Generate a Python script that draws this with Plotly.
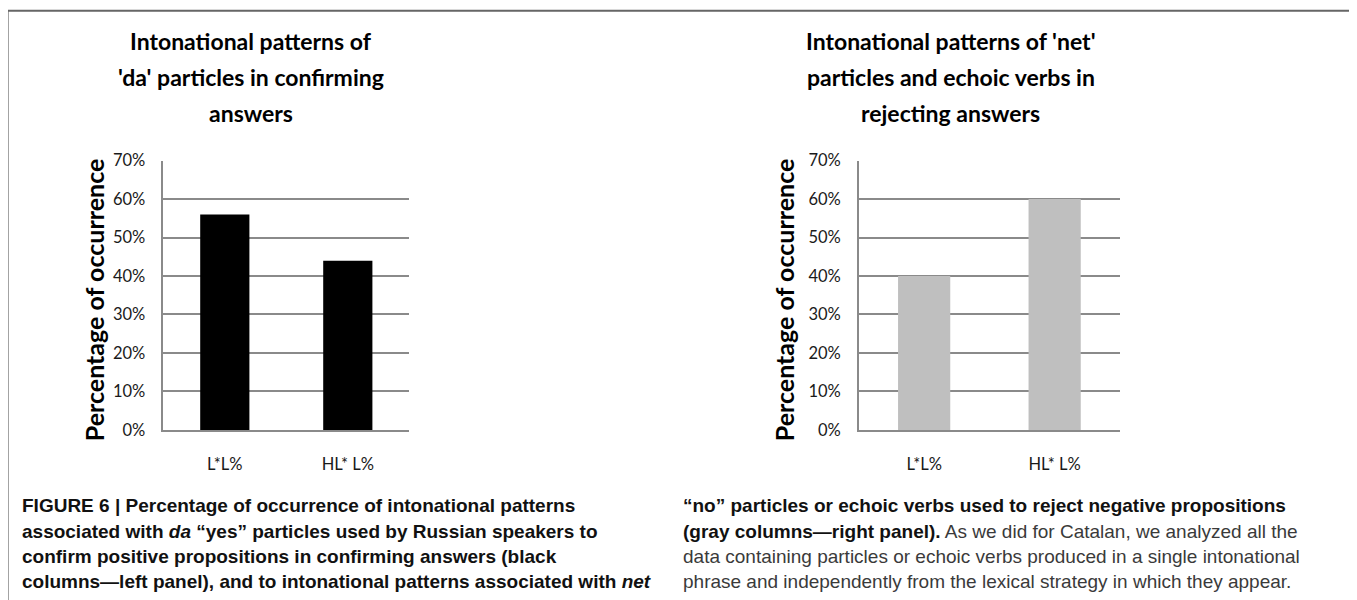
import plotly.graph_objects as go

W, H = 1357, 600

categories = ["L*L%", "HL* L%"]
da_values = [0.56, 0.44]
net_values = [0.40, 0.60]
y_tick_vals = [0, 0.1, 0.2, 0.3, 0.4, 0.5, 0.6, 0.7]
left_title = ["Intonational patterns of", "'da' particles in confirming", "answers"]
right_title = ["Intonational patterns of 'net'", "particles and echoic verbs in", "rejecting answers"]
y_title = "Percentage of occurrence"
left_caption = [
    "<b>FIGURE 6 | Percentage of occurrence of intonational patterns</b>",
    "<b>associated with <i>da</i> \u201cyes\u201d particles used by Russian speakers to</b>",
    "<b>confirm positive propositions in confirming answers (black</b>",
    "<b>columns\u2014left panel), and to intonational patterns associated with <i>net</i></b>",
]
right_caption = [
    "<b>\u201cno\u201d particles or echoic verbs used to reject negative propositions</b>",
    "<b>(gray columns\u2014right panel).</b><span style='color:#3a3a3a'> As we did for Catalan, we analyzed all the</span>",
    "<span style='color:#3a3a3a'>data containing particles or echoic verbs produced in a single intonational</span>",
    "<span style='color:#3a3a3a'>phrase and independently from the lexical strategy in which they appear.</span>",
]

# mapping from target picture pixels to paper coordinates (compensates page offset)
OX, OY, SW, SH = 7.4, 17.4, 1357.0, 582.0


def px(x):
    return (x - OX) / SW


def py(y):
    return 1 - (y - OY) / SH


FONT = "Lato"
GRID = "#8a8a8a"

fig = go.Figure()
fig.add_trace(go.Bar(x=categories, y=da_values, marker=dict(color="#000000", line=dict(width=0)),
                     xaxis="x", yaxis="y", showlegend=False))
fig.add_trace(go.Bar(x=categories, y=net_values, marker=dict(color="#bfbfbf", line=dict(width=0)),
                     xaxis="x2", yaxis="y2", showlegend=False))

ydom = [py(430.7), py(160.5)]
common_y = dict(range=[0, 0.7], tickvals=y_tick_vals, tickformat=".0%", showgrid=True,
                gridcolor=GRID, gridwidth=1.5, showline=True, linecolor=GRID, linewidth=1.5,
                zeroline=False, ticks="", ticklabelstandoff=13,
                tickfont=dict(family=FONT, size=16.5, color="#1a1a1a"), domain=ydom, fixedrange=True)
common_x = dict(showline=True, linecolor=GRID, linewidth=1.5, showgrid=False, ticks="",
                ticklabelstandoff=19, tickfont=dict(family=FONT, size=16.5, color="#1a1a1a"),
                fixedrange=True)

fig.update_layout(
    width=W, height=H,
    margin=dict(l=0, r=0, t=0, b=0),
    paper_bgcolor="white", plot_bgcolor="white",
    bargap=0.6,
    xaxis=dict(domain=[px(162.7), px(408.7)], anchor="y", **common_x),
    yaxis=dict(anchor="x", **common_y),
    xaxis2=dict(domain=[px(858.3), px(1119.3)], anchor="y2", **common_x),
    yaxis2=dict(anchor="x2", **common_y),
    showlegend=False,
)

annotations = []
line_y = [40, 77, 113]
for cx, lines in [(250, left_title), (950, right_title)]:
    for ly, t in zip(line_y, lines):
        annotations.append(dict(text="<b>" + t + "</b>", x=px(cx), y=py(ly), xref="paper", yref="paper",
                                xanchor="center", yanchor="middle", showarrow=False,
                                font=dict(family=FONT, size=23, color="#000000")))

for cx in (93, 783):
    annotations.append(dict(text="<b>" + y_title + "</b>", x=px(cx), y=py(300), xref="paper", yref="paper",
                            xanchor="center", yanchor="middle", showarrow=False, textangle=-90,
                            font=dict(family=FONT, size=25, color="#000000")))

cap_y = [507, 533, 558, 583]
for cx, lines in [(19, left_caption), (680, right_caption)]:
    for ly, t in zip(cap_y, lines):
        annotations.append(dict(text=t, x=px(cx), y=py(ly), xref="paper", yref="paper",
                                xanchor="left", yanchor="middle", showarrow=False, align="left",
                                font=dict(family="Liberation Sans", size=19, color="#111111")))

fig.update_layout(annotations=annotations)

fig.add_shape(type="rect", xref="paper", yref="paper",
              x0=px(7), x1=px(1356), y0=-0.1, y1=py(10),
              line=dict(color="#666666", width=2), fillcolor="rgba(0,0,0,0)", layer="below")

fig.write_html("out.html")
